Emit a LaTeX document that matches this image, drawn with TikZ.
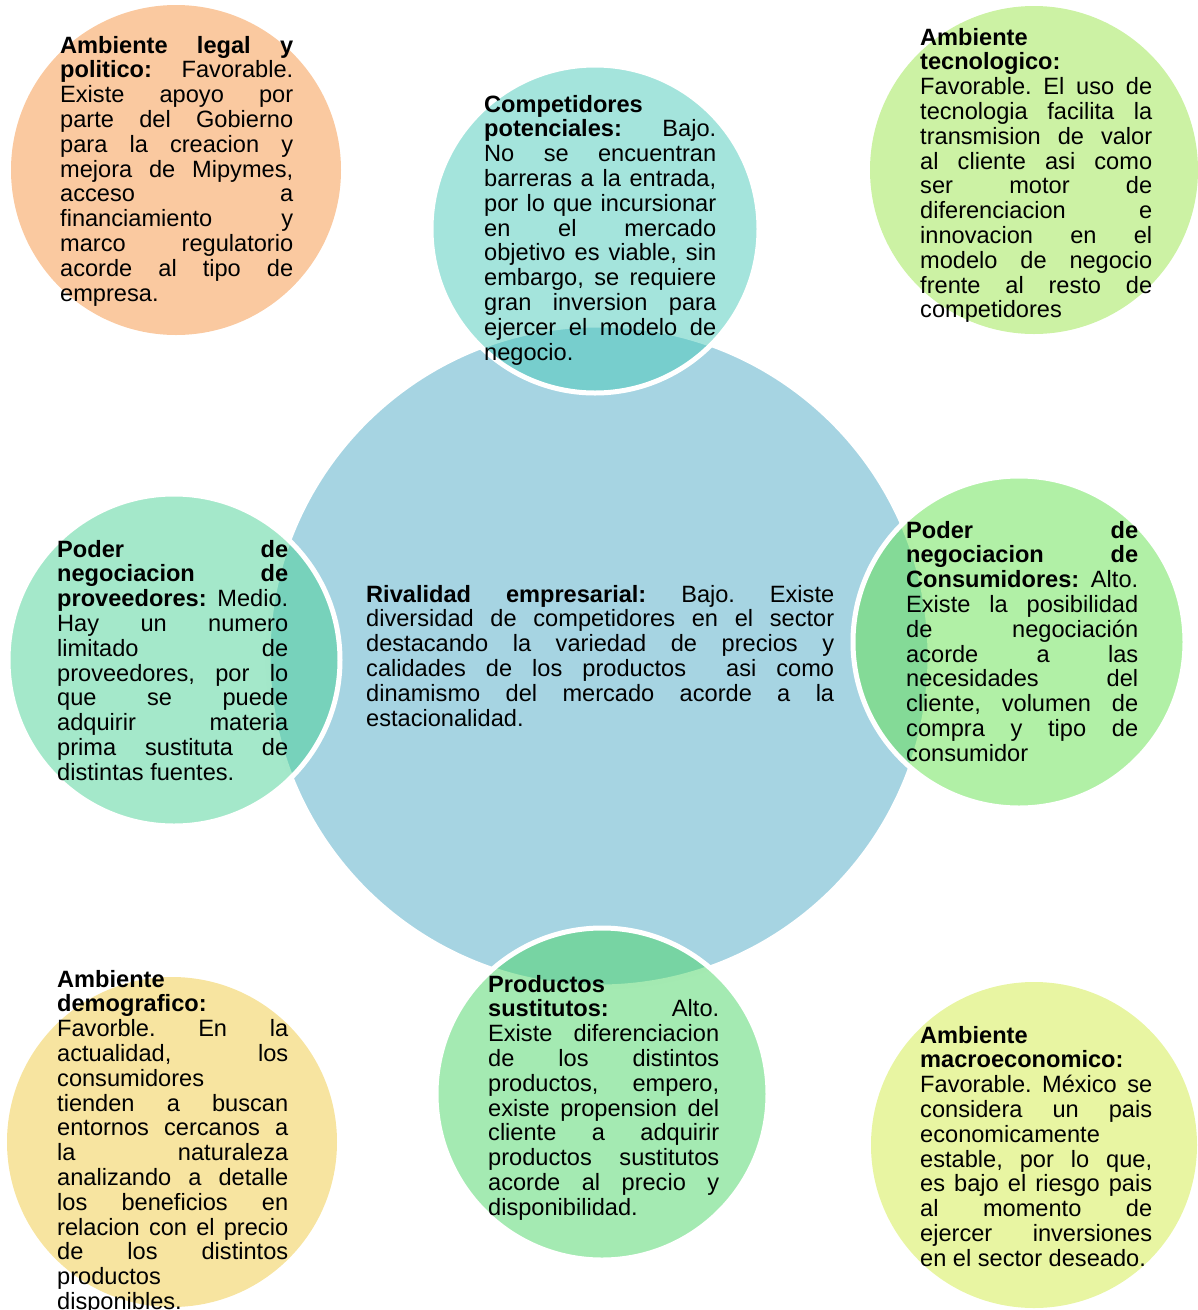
\documentclass[tikz,border=0pt]{standalone}
\usepackage{fontspec}
\setmainfont{Liberation Sans}
\usepackage{tikz}
\definecolor{hubblue}{RGB}{166,212,226}
\definecolor{tealf}{RGB}{73,201,185}
\definecolor{mintf}{RGB}{73,209,149}
\definecolor{limef}{RGB}{99,225,77}
\definecolor{grassf}{RGB}{73,213,101}
\definecolor{peach}{RGB}{250,201,160}
\definecolor{paleleaf}{RGB}{204,242,164}
\definecolor{sand}{RGB}{247,228,160}
\definecolor{palelime}{RGB}{232,245,162}
\tolerance=10000
\hbadness=10000
\hyphenpenalty=10000
\frenchspacing

\begin{document}
\begin{tikzpicture}[
  x=1pt, y=-1pt,
  hub/.style={circle, inner sep=0pt, minimum size=662pt, fill=hubblue, draw=white, line width=5pt},
  force/.style={circle, inner sep=0pt, minimum size=332pt, fill opacity=0.5, draw=white, draw opacity=1, line width=5pt},
  env/.style={circle, inner sep=0pt, minimum size=330pt},
  txt/.style={anchor=base west, inner sep=0pt, align=justify, font=\fontsize{23.6}{24.8}\selectfont}
]
  \useasboundingbox (0,0) rectangle (1198,1310);

  \node[hub] (rival) at (599,656) {};

  \node[force, fill=tealf, minimum size=328pt] (compet) at (595,229) {};
  \node[force, fill=mintf] (prov) at (174,660) {};
  \node[force, fill=limef] (cons) at (1019,642) {};
  \node[force, fill=grassf] (sust) at (602,1094) {};

  \node[env, fill=peach] (legal) at (176,170) {};
  \node[env, fill=paleleaf, minimum size=328pt] (tecno) at (1034,170) {};
  \node[env, fill=sand] (demo) at (172,1142) {};
  \node[env, fill=palelime, minimum size=326pt] (macro) at (1034,1145) {};

  \node[txt, text width=233pt] (legaltxt) at (60,53)
    {\textbf{Ambiente legal y\linebreak politico:} Favorable.\linebreak Existe apoyo por\linebreak parte del Gobierno\linebreak para la creacion y\linebreak mejora de Mipymes,\linebreak acceso a\linebreak financiamiento y\linebreak marco regulatorio\linebreak acorde al tipo de\linebreak empresa.};
  \node[txt, text width=232pt] (compettxt) at (484,112)
    {\textbf{Competidores\linebreak potenciales:} Bajo.\linebreak No se encuentran\linebreak barreras a la entrada,\linebreak por lo que incursionar\linebreak en el mercado\linebreak objetivo es viable, sin\linebreak embargo, se requiere\linebreak gran inversion para\linebreak ejercer el modelo de\linebreak negocio.};
  \node[txt, text width=232pt] (tecnotxt) at (920,45)
    {\textbf{Ambiente\linebreak tecnologico:}\linebreak Favorable. El uso de\linebreak tecnologia facilita la\linebreak transmision de valor\linebreak al cliente asi como\linebreak ser motor de\linebreak diferenciacion e\linebreak innovacion en el\linebreak modelo de negocio\linebreak frente al resto de\linebreak competidores};
  \node[txt, text width=231pt] (provtxt) at (57,557)
    {\textbf{Poder de\linebreak negociacion de\linebreak proveedores:} Medio.\linebreak Hay un numero\linebreak limitado de\linebreak proveedores, por lo\linebreak que se puede\linebreak adquirir materia\linebreak prima sustituta de\linebreak distintas fuentes.};
  \node[txt, text width=468pt] (rivaltxt) at (366,602)
    {\textbf{Rivalidad empresarial:} Bajo. Existe\linebreak diversidad de competidores en el sector\linebreak destacando la variedad de precios y\linebreak calidades de los productos\ \ asi como\linebreak dinamismo del mercado acorde a la\linebreak estacionalidad.};
  \node[txt, text width=232pt] (constxt) at (906,538)
    {\textbf{Poder de\linebreak negociacion de\linebreak Consumidores:} Alto.\linebreak Existe la posibilidad\linebreak de negociación\linebreak acorde a las\linebreak necesidades del\linebreak cliente, volumen de\linebreak compra y tipo de\linebreak consumidor};
  \node[txt, text width=231pt] (demotxt) at (57,987)
    {\textbf{Ambiente\linebreak demografico:}\linebreak Favorble. En la\linebreak actualidad, los\linebreak consumidores\linebreak tienden a buscan\linebreak entornos cercanos a\linebreak la naturaleza\linebreak analizando a detalle\linebreak los beneficios en\linebreak relacion con el precio\linebreak de los distintos\linebreak productos\linebreak disponibles.};
  \node[txt, text width=231pt] (susttxt) at (488,992)
    {\textbf{Productos\linebreak sustitutos:} Alto.\linebreak Existe diferenciacion\linebreak de los distintos\linebreak productos, empero,\linebreak existe propension del\linebreak cliente a adquirir\linebreak productos sustitutos\linebreak acorde al precio y\linebreak disponibilidad.};
  \node[txt, text width=232pt] (macrotxt) at (920,1043)
    {\textbf{Ambiente\linebreak macroeconomico:}\linebreak Favorable. México se\linebreak considera un pais\linebreak economicamente\linebreak estable, por lo que,\linebreak es bajo el riesgo pais\linebreak al momento de\linebreak ejercer inversiones\linebreak en el sector deseado.};
\end{tikzpicture}
\end{document}
